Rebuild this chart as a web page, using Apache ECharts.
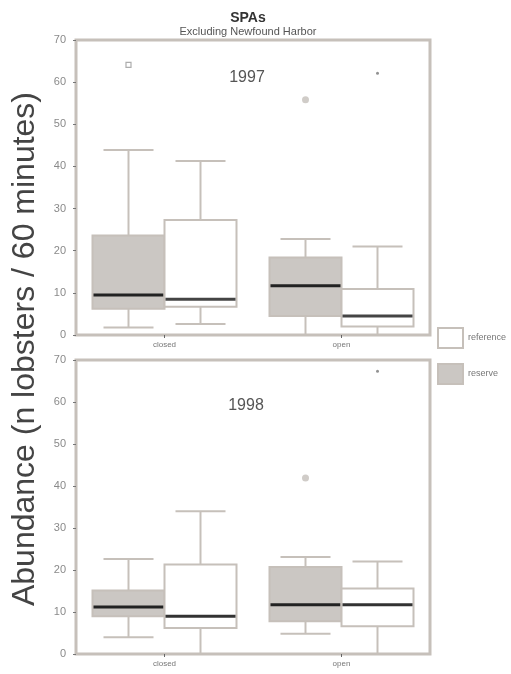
<!DOCTYPE html>
<html>
<head>
<meta charset="utf-8">
<script src="https://cdn.jsdelivr.net/npm/echarts@6/dist/echarts.min.js"></script>
<style>
  html, body { margin: 0; padding: 0; background: #fff; }
  #chart { width: 511px; height: 674px; }
</style>
</head>
<body>
<div id="chart"></div>
<script>
// Site categories and panel years
const categories = ['closed', 'open'];
const years = ['1997', '1998'];
const yTicks = [0, 70, 10]; // min, max, step

// Box summaries per category: [min, Q1, median, Q3, max]
const reserve1997 = [[1.8, 6.2, 9.5, 23.6, 43.9], [0, 4.5, 11.7, 18.4, 22.8]];
const reference1997 = [[2.6, 6.7, 8.5, 27.3, 41.3], [0, 2.0, 4.5, 10.9, 21.0]];
const reserve1998 = [[4.0, 9.0, 11.2, 15.1, 22.6], [4.8, 7.8, 11.7, 20.7, 23.1]];
const reference1998 = [[0, 6.2, 9.0, 21.3, 34.0], [0, 6.6, 11.7, 15.6, 22.0]];

// Outliers: [category index, value]
const reserveOut1997 = [[0, 64.1], [1, 55.8]];
const referenceOut1997 = [[1, 62.1]];
const reserveOut1998 = [[1, 41.9]];
const referenceOut1998 = [[1, 67.3]];

const LINE = '#c6c0ba';
const RESERVE_FILL = '#cbc7c3';
const BOX_W = 72, CAP_W = 50;

function withIndex(rows) {
  return rows.map((r, i) => [i].concat(r));
}

// Draws one box-and-whisker per category, shifted left (side=-1) or right (side=1)
function boxRenderer(side, fill, medianColor) {
  return function (params, api) {
    const cat = api.value(0);
    const cx = api.coord([cat, 0])[0] + side * BOX_W / 2;
    const y = k => api.coord([cat, api.value(k)])[1];
    const yMin = y(1), yQ1 = y(2), yMed = y(3), yQ3 = y(4), yMax = y(5);
    const L = cx - BOX_W / 2, R = cx + BOX_W / 2;
    const lineStyle = { stroke: LINE, lineWidth: 2, fill: null };
    return {
      type: 'group',
      children: [
        { type: 'line', shape: { x1: cx, y1: yQ3, x2: cx, y2: yMax }, style: lineStyle },
        { type: 'line', shape: { x1: cx, y1: yQ1, x2: cx, y2: yMin }, style: lineStyle },
        { type: 'line', shape: { x1: cx - CAP_W / 2, y1: yMax, x2: cx + CAP_W / 2, y2: yMax }, style: lineStyle },
        { type: 'line', shape: { x1: cx - CAP_W / 2, y1: yMin, x2: cx + CAP_W / 2, y2: yMin }, style: lineStyle },
        { type: 'rect', shape: { x: L, y: yQ3, width: R - L, height: yQ1 - yQ3 },
          style: { fill: fill, stroke: LINE, lineWidth: 2 } },
        { type: 'line', shape: { x1: L + 1, y1: yMed, x2: R - 1, y2: yMed },
          style: { stroke: medianColor, lineWidth: 3 } }
      ]
    };
  };
}

function boxSeries(name, rows, panel, side, fill, median) {
  return {
    type: 'custom', name: name, xAxisIndex: panel, yAxisIndex: panel,
    itemStyle: { color: fill, borderColor: LINE },
    renderItem: boxRenderer(side, fill, median),
    encode: { x: 0, y: [1, 2, 3, 4, 5] },
    data: withIndex(rows), z: 2
  };
}

function outlierSeries(name, pts, panel, side, symbol, size, color, hollow) {
  return {
    type: 'scatter', name: name, xAxisIndex: panel, yAxisIndex: panel,
    symbol: symbol, symbolSize: size, symbolOffset: [side * BOX_W / 2, 0],
    itemStyle: hollow ? { color: '#fff', borderColor: color, borderWidth: 1.2 } : { color: color },
    data: pts, z: 3, silent: true
  };
}

const grids = [
  { left: 76, right: 81, top: 40, height: 295 },
  { left: 76, right: 81, top: 360, height: 294 }
];

function xAxisFor(i) {
  return {
    type: 'category', gridIndex: i, data: categories,
    axisLine: { show: false },
    axisTick: { show: true, alignWithLabel: true, length: 3, lineStyle: { color: '#666' } },
    axisLabel: { fontSize: 8, color: '#777', margin: 6, fontFamily: 'Liberation Sans' },
    splitLine: { show: false }
  };
}
function yAxisFor(i) {
  return {
    type: 'value', gridIndex: i, min: yTicks[0], max: yTicks[1], interval: yTicks[2],
    axisLine: { show: false },
    axisTick: { show: true, length: 3, lineStyle: { color: '#777' } },
    axisLabel: { fontSize: 11, color: '#8a8a8a', margin: 10, fontFamily: 'Liberation Sans' },
    splitLine: { show: false }
  };
}

const chart = echarts.init(document.getElementById('chart'), null, { renderer: 'canvas' });
chart.setOption({
  backgroundColor: '#fff',
  animation: false,
  title: {
    text: 'SPAs', subtext: 'Excluding Newfound Harbor',
    left: 243, top: 6, textAlign: 'center', itemGap: 1,
    textStyle: { fontSize: 14, fontWeight: 'bold', color: '#333', fontFamily: 'Liberation Sans' },
    subtextStyle: { fontSize: 11, color: '#555', fontFamily: 'Liberation Sans' }
  },
  legend: {
    orient: 'vertical', left: 437, top: 327, padding: 0,
    itemWidth: 25, itemHeight: 20, itemGap: 14,
    icon: 'rect', selectedMode: false,
    textStyle: { fontSize: 9, color: '#777', padding: [6, 0, 0, 0], fontFamily: 'Liberation Sans' },
    data: [
      { name: 'reference', itemStyle: { color: '#fff', borderColor: LINE, borderWidth: 2 } },
      { name: 'reserve', itemStyle: { color: RESERVE_FILL, borderColor: LINE, borderWidth: 2 } }
    ]
  },
  grid: grids.map(g => Object.assign({ show: true, borderColor: LINE, borderWidth: 3, backgroundColor: 'transparent' }, g)),
  xAxis: [xAxisFor(0), xAxisFor(1)],
  yAxis: [yAxisFor(0), yAxisFor(1)],
  graphic: [
    { type: 'text', x: 247, y: 78, style: { text: years[0], fontSize: 16, fill: '#555', fontFamily: 'Liberation Sans', align: 'center', verticalAlign: 'middle' } },
    { type: 'text', x: 246, y: 406, style: { text: years[1], fontSize: 16, fill: '#555', fontFamily: 'Liberation Sans', align: 'center', verticalAlign: 'middle' } },
    { type: 'text', x: 25, y: 349, rotation: Math.PI / 2,
      style: { text: 'Abundance (n lobsters / 60 minutes)', fontSize: 32, fill: '#444',
               fontFamily: 'Liberation Sans', align: 'center', verticalAlign: 'middle' } }
  ],
  series: [
    boxSeries('reserve', reserve1997, 0, -1, RESERVE_FILL, '#222'),
    boxSeries('reference', reference1997, 0, 1, '#fff', '#444'),
    boxSeries('reserve', reserve1998, 1, -1, RESERVE_FILL, '#222'),
    boxSeries('reference', reference1998, 1, 1, '#fff', '#333'),
    outlierSeries('reserve', [reserveOut1997[0]], 0, -1, 'rect', 5, '#999', true),
    outlierSeries('reserve', [reserveOut1997[1]], 0, -1, 'circle', 7, '#c4bfba', false),
    outlierSeries('reference', referenceOut1997, 0, 1, 'circle', 3, '#777', false),
    outlierSeries('reserve', reserveOut1998, 1, -1, 'circle', 7, '#c4bfba', false),
    outlierSeries('reference', referenceOut1998, 1, 1, 'circle', 3, '#777', false)
  ]
});
</script>
</body>
</html>
